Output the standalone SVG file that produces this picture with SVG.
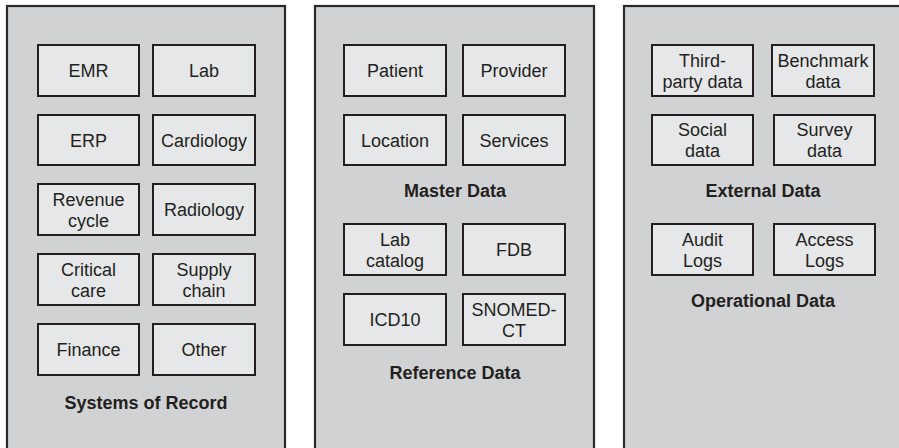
<svg xmlns="http://www.w3.org/2000/svg" width="899" height="448" viewBox="0 0 899 448">
  <style>
    .panel { fill: #d1d2d4; stroke: #2b2a2b; stroke-width: 2.2; }
    .box { fill: #e6e7e8; stroke: #231f20; stroke-width: 2; }
    .t { font-family: "Liberation Sans", Arial, sans-serif; font-size: 18px; fill: #231f20; text-anchor: middle; }
    .h { font-family: "Liberation Sans", Arial, sans-serif; font-size: 18px; font-weight: bold; fill: #231f20; text-anchor: middle; }
  </style>
  <rect width="899" height="448" fill="#ffffff"/>

  <!-- Systems of Record -->
  <g id="panel-systems">
    <rect class="panel" x="7" y="6" width="278" height="460"/>
    <text class="h" x="146" y="409">Systems of Record</text>
  </g>
  <g id="emr"><rect class="box" x="38" y="45" width="101" height="51"/><text class="t" x="88.5" y="77">EMR</text></g>
  <g id="lab"><rect class="box" x="153" y="45" width="102" height="51"/><text class="t" x="204" y="77">Lab</text></g>
  <g id="erp"><rect class="box" x="38" y="115" width="101" height="50"/><text class="t" x="88.5" y="146.5">ERP</text></g>
  <g id="cardiology"><rect class="box" x="153" y="115" width="102" height="50"/><text class="t" x="204" y="146.5">Cardiology</text></g>
  <g id="revenue-cycle"><rect class="box" x="38" y="184" width="101" height="51"/><text class="t" x="88.5" y="206">Revenue</text><text class="t" x="88.5" y="227">cycle</text></g>
  <g id="radiology"><rect class="box" x="153" y="184" width="102" height="51"/><text class="t" x="204" y="216">Radiology</text></g>
  <g id="critical-care"><rect class="box" x="38" y="254" width="101" height="51"/><text class="t" x="88.5" y="276">Critical</text><text class="t" x="88.5" y="297">care</text></g>
  <g id="supply-chain"><rect class="box" x="153" y="254" width="102" height="51"/><text class="t" x="204" y="276">Supply</text><text class="t" x="204" y="297">chain</text></g>
  <g id="finance"><rect class="box" x="38" y="324" width="101" height="51"/><text class="t" x="88.5" y="356">Finance</text></g>
  <g id="other"><rect class="box" x="153" y="324" width="102" height="51"/><text class="t" x="204" y="356">Other</text></g>

  <!-- Master and Reference Data -->
  <g id="panel-master-reference">
    <rect class="panel" x="315" y="6" width="279" height="460"/>
    <text class="h" x="455" y="197">Master Data</text>
    <text class="h" x="455" y="379">Reference Data</text>
  </g>
  <g id="patient"><rect class="box" x="344" y="45" width="102" height="51"/><text class="t" x="395" y="77">Patient</text></g>
  <g id="provider"><rect class="box" x="463" y="45" width="102" height="51"/><text class="t" x="514" y="77">Provider</text></g>
  <g id="location"><rect class="box" x="344" y="115" width="102" height="50"/><text class="t" x="395" y="146.5">Location</text></g>
  <g id="services"><rect class="box" x="463" y="115" width="102" height="50"/><text class="t" x="514" y="146.5">Services</text></g>
  <g id="lab-catalog"><rect class="box" x="344" y="224" width="102" height="51"/><text class="t" x="395" y="246">Lab</text><text class="t" x="395" y="267">catalog</text></g>
  <g id="fdb"><rect class="box" x="463" y="224" width="102" height="51"/><text class="t" x="514" y="256">FDB</text></g>
  <g id="icd10"><rect class="box" x="344" y="294" width="102" height="51"/><text class="t" x="395" y="326">ICD10</text></g>
  <g id="snomed-ct"><rect class="box" x="463" y="294" width="102" height="51"/><text class="t" x="514" y="316">SNOMED-</text><text class="t" x="514" y="337">CT</text></g>

  <!-- External and Operational Data -->
  <g id="panel-external-operational">
    <rect class="panel" x="624" y="6" width="290" height="460"/>
    <text class="h" x="763" y="197">External Data</text>
    <text class="h" x="763" y="307">Operational Data</text>
  </g>
  <g id="third-party"><rect class="box" x="652" y="45" width="101" height="51"/><text class="t" x="702.5" y="67">Third-</text><text class="t" x="702.5" y="88">party data</text></g>
  <g id="benchmark"><rect class="box" x="772" y="45" width="102" height="51"/><text class="t" x="823" y="67">Benchmark</text><text class="t" x="823" y="88">data</text></g>
  <g id="social"><rect class="box" x="652" y="115" width="101" height="50"/><text class="t" x="702.5" y="136">Social</text><text class="t" x="702.5" y="157">data</text></g>
  <g id="survey"><rect class="box" x="774" y="115" width="101" height="50"/><text class="t" x="824.5" y="136">Survey</text><text class="t" x="824.5" y="157">data</text></g>
  <g id="audit-logs"><rect class="box" x="652" y="224" width="101" height="51"/><text class="t" x="702.5" y="246">Audit</text><text class="t" x="702.5" y="267">Logs</text></g>
  <g id="access-logs"><rect class="box" x="774" y="224" width="101" height="51"/><text class="t" x="824.5" y="246">Access</text><text class="t" x="824.5" y="267">Logs</text></g>

  <g id="connectors"/>
</svg>
